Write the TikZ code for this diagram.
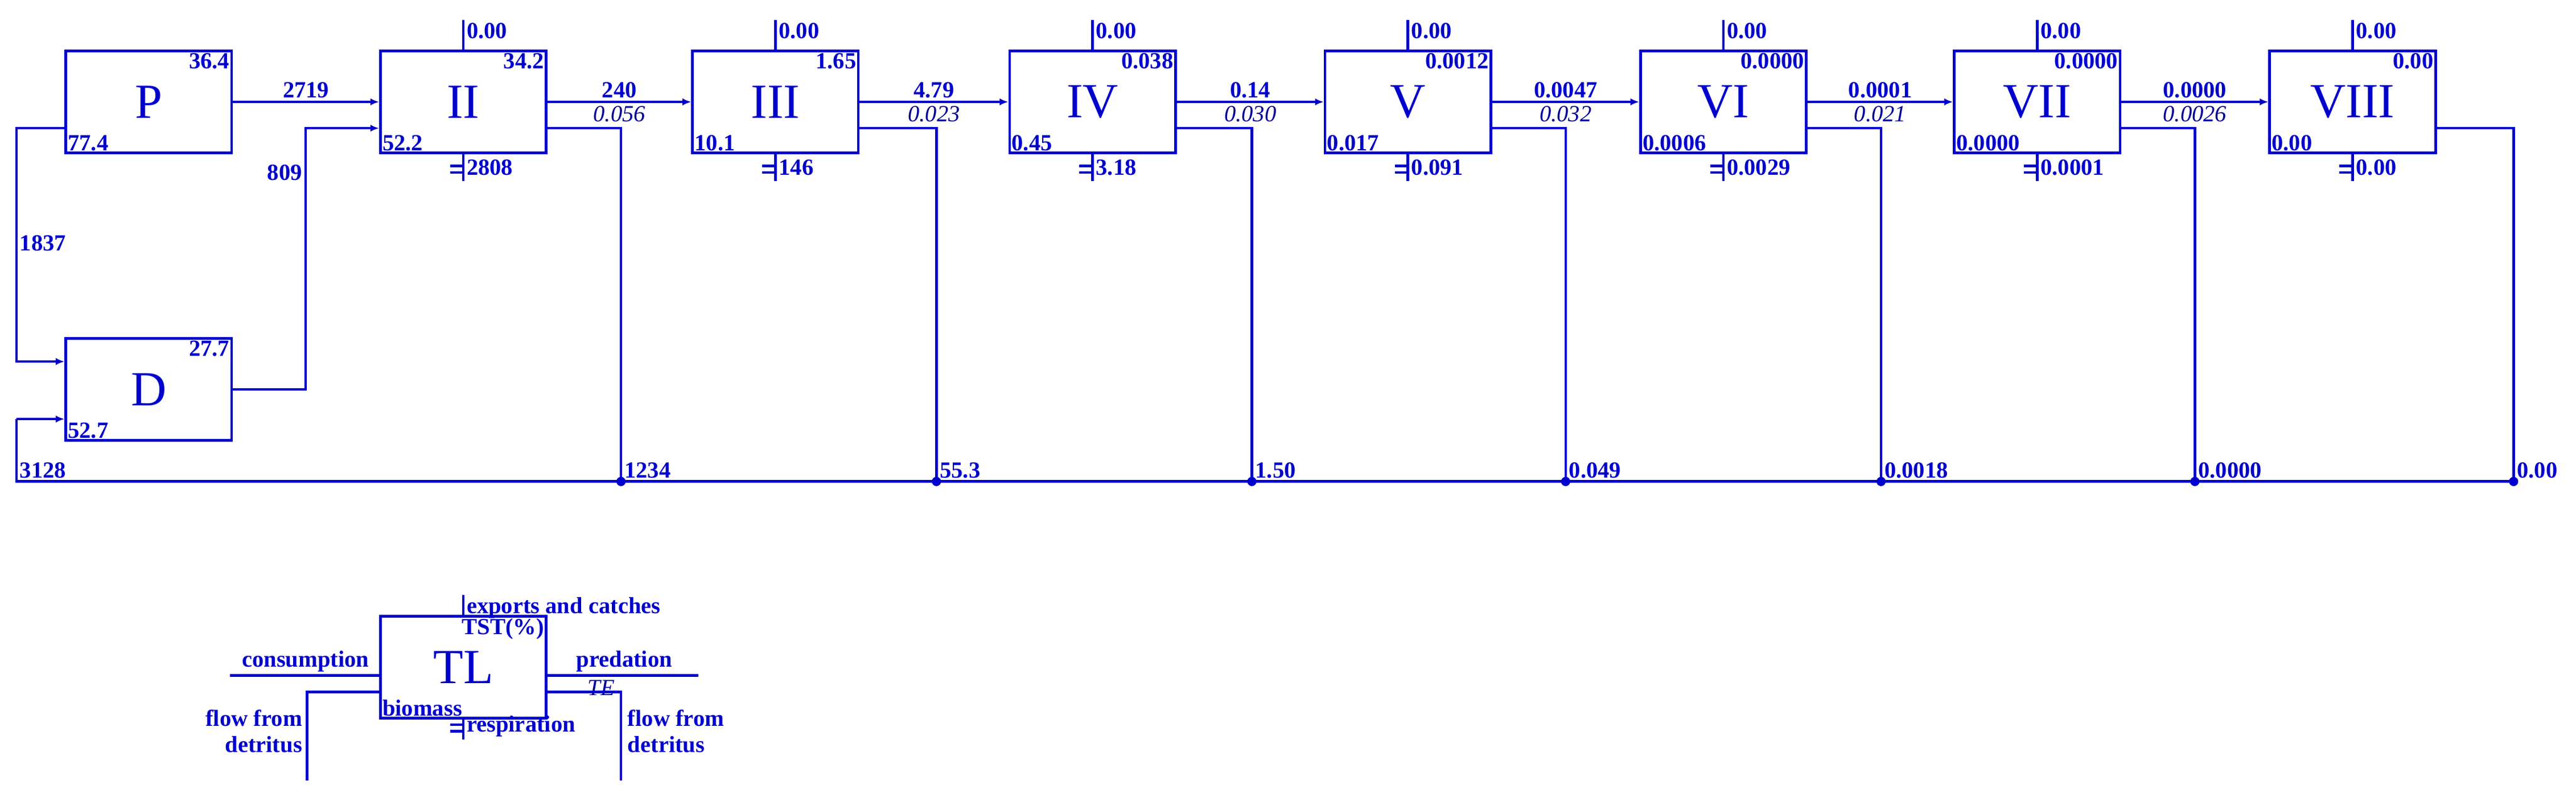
\documentclass[tikz,border=0pt]{standalone}
\usepackage{fontspec}
\setmainfont{Liberation Serif}
\begin{document}
\begin{tikzpicture}[x=0.02cm,y=-0.02cm,
  line/.style={draw=blue!80!black,line width=0.9pt},
  box/.style={line,minimum width=2.02cm,minimum height=1.24cm,inner sep=0pt,font=\fontsize{17}{17}\selectfont,text=blue!80!black},
  num/.style={font=\bfseries\fontsize{8}{9}\selectfont,text=blue!80!black,inner sep=1pt},
  it/.style={font=\itshape\fontsize{8}{9}\selectfont,text=blue!60!black,inner sep=1pt},
  arr/.style={line,-{Latex[length=3pt,width=2.5pt]}}]
\useasboundingbox (0,0) rectangle (1568,485);
\usetikzlibrary{arrows.meta}
% boxes
\node[box] (P) at (90.5,62) {P};
\node[box] (D) at (90.5,237) {D};
\node[num,anchor=north east] at (P.north east) {36.4};
\node[num,anchor=south west] at (P.south west) {77.4};
\node[num,anchor=north east] at (D.north east) {27.7};
\node[num,anchor=south west] at (D.south west) {52.7};
\def\names{{"II","III","IV","V","VI","VII","VIII"}}
\foreach \xx/\nm/\tr/\bl/\re/\dr/\dl [count=\i] in
 {282/II/34.2/52.2/2808/378/1234,
  472/III/1.65/10.1/146/570/55.3,
  665/IV/0.038/0.45/3.18/762/1.50,
  857/V/0.0012/0.017/0.091/953/0.049,
  1049/VI/0.0000/0.0006/0.0029/1145/0.0018,
  1240/VII/0.0000/0.0000/0.0001/1336/0.0000,
  1432/VIII/0.00/0.00/0.00/1530/0.00}{
  \node[box] (B\i) at (\xx,62) {\nm};
  \node[num,anchor=north east] at (B\i.north east) {\tr};
  \node[num,anchor=south west] at (B\i.south west) {\bl};
  \coordinate (T\i) at (\xx,12);
  \draw[line] (B\i.north) -- (T\i);
  \node[num,anchor=north west] at (T\i) {0.00};
  \coordinate (R\i) at (\xx,110);
  \draw[line] (B\i.south) -- (R\i);
  \draw[line] (\xx-8,101) -- (\xx,101) (\xx-8,105) -- (\xx,105);
  \node[num,anchor=west] at (\xx,102) {\re};
  \coordinate (E\i) at (\dr,78);
  \coordinate (F\i) at (\dr,293);
  \draw[line] (B\i.east|-E\i) -- (E\i) -- (F\i);
  \fill[blue!80!black] (F\i) circle (1.6pt);
  \node[num,anchor=south west] at (F\i) {\dl};
}
% bottom line
\coordinate (L0) at (10,293);
\coordinate (L1) at (10,255);
\draw[line] (F7) -- (L0) -- (L1);
\draw[arr] (L1) -- (D.west|-L1);
\node[num,anchor=south west] at (L0) {3128};
% P to II
\draw[arr] (P.east) -- node[num,above]{2719} (B1.west);
% P to D
\coordinate (p1) at (10,78); \coordinate (p2) at (10,220);
\draw[arr] (P.west|-p1) -- (p1) -- (p2) -- (D.west|-p2);
\node[num,anchor=west] at (10,148) {1837};
% D to II
\coordinate (d1) at (186,237); \coordinate (d2) at (186,78);
\draw[arr] (D.east) -- (d1) -- (d2) -- (B1.west|-d2);
\node[num,anchor=east] at (186,105) {809};
% flows between levels
\foreach \a/\b/\f/\e in {1/2/240/0.056,2/3/4.79/0.023,3/4/0.14/0.030,4/5/0.0047/0.032,5/6/0.0001/0.021,6/7/0.0000/0.0026}{
  \draw[arr] (B\a.east) -- node[num,above]{\f} node[it,below]{\e} (B\b.west);
}
% legend
\node[box] (TL) at (282,406) {TL};
\node[num,anchor=north east] at (TL.north east) {TST(\%)};
\node[num,anchor=south west] at (TL.south west) {biomass};
\coordinate (lt) at (282,362);
\draw[line] (TL.north) -- (lt);
\node[num,anchor=west] at (282,370) {exports and catches};
\coordinate (lc) at (140,411);
\draw[line] (lc) -- (TL.west|-lc);
\node[num,anchor=south] at (186,411) {consumption};
\coordinate (lp) at (425,411);
\draw[line] (TL.east|-lp) -- (lp);
\node[num,anchor=south] at (380,411) {predation};
\node[it,anchor=north] at (366,412) {TE};
\coordinate (la) at (187,421); \coordinate (lb) at (187,475);
\draw[line] (TL.west|-la) -- (la) -- (lb);
\node[num,anchor=north east,align=right] at (186,430) {flow from\\detritus};
\coordinate (ra) at (378,421); \coordinate (rb) at (378,475);
\draw[line] (TL.east|-ra) -- (ra) -- (rb);
\node[num,anchor=north west,align=left] at (380,430) {flow from\\detritus};
\coordinate (lr) at (282,450);
\draw[line] (TL.south) -- (lr);
\draw[line] (274,441) -- (282,441) (274,445) -- (282,445);
\node[num,anchor=west] at (282,442) {respiration};
\end{tikzpicture}
\end{document}
